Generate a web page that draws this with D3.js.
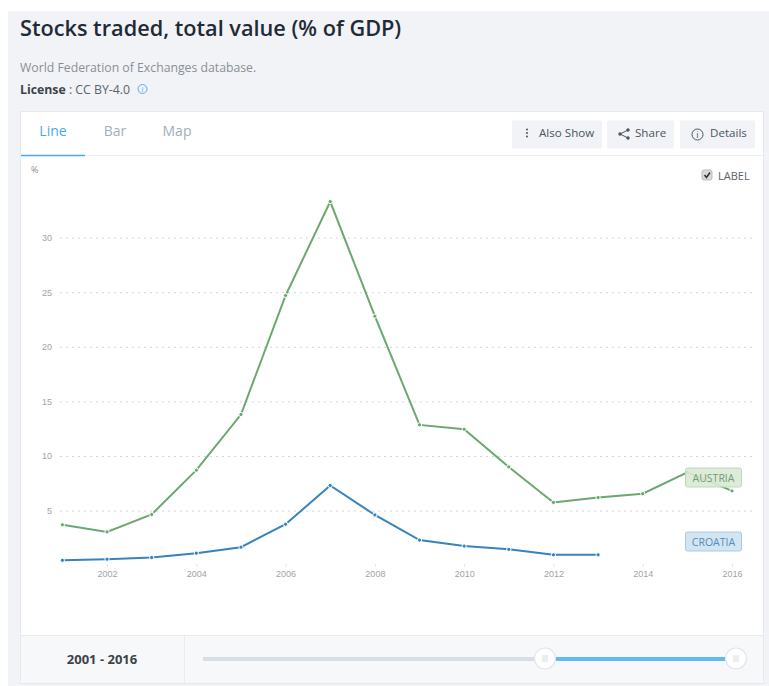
<!DOCTYPE html>
<html>
<head>
<meta charset="utf-8">
<script src="https://cdn.jsdelivr.net/npm/d3@7"></script>
<style>
  html, body { margin: 0; padding: 0; background: #fff; overflow: hidden; }
  svg { display: block; font-family: "Open Sans", sans-serif; }
  .axis path { display: none; }
  .axis text { fill: #a3a3a3; font-size: 9px; }
  .x.axis line { stroke: #e4e4e4; }
  .y.axis line { stroke: #d6d6d6; stroke-dasharray: 2 4; }
  .btn text { fill: #4b5560; font-size: 11.6px; }
</style>
</head>
<body>
<div id="chart"></div>
<script>
const years = d3.range(2001, 2017);
const austria = [3.7, 3.05, 4.65, 8.7, 13.8, 24.7, 33.3, 22.8, 12.85, 12.45, 9, 5.75, 6.2, 6.55, 8.5, 6.8];
const croatia = [0.45, 0.55, 0.7, 1.1, 1.65, 3.75, 7.3, 4.6, 2.3, 1.75, 1.45, 0.95, 0.95];
const xTicks = [2002, 2004, 2006, 2008, 2010, 2012, 2014, 2016];
const yTicks = [5, 10, 15, 20, 25, 30];
const tabs = ["Line", "Bar", "Map"];

const width = 769, height = 686;

const svg = d3.select("#chart").append("svg")
    .attr("width", width)
    .attr("height", height);

// page panel and card
svg.append("rect").attr("x", 8).attr("y", 11).attr("width", width - 8).attr("height", height - 11).attr("fill", "#f1f3f7");
svg.append("rect").attr("x", 20.5).attr("y", 111.5).attr("width", 743).attr("height", 572)
    .attr("fill", "#fff").attr("stroke", "#e6e9ee");

// header text
svg.append("text").attr("x", 20).attr("y", 36).attr("font-size", 21.7).attr("font-weight", 600)
    .attr("fill", "#1f2b36").text("Stocks traded, total value (% of GDP)");
svg.append("text").attr("x", 20).attr("y", 72).attr("font-size", 12.25).attr("fill", "#8b8f94")
    .text("World Federation of Exchanges database.");
const lic = svg.append("text").attr("x", 20).attr("y", 94).attr("font-size", 12.3).attr("fill", "#5c6268");
lic.append("tspan").attr("font-weight", 700).attr("fill", "#3c434a").text("License");
lic.append("tspan").text(" : CC BY-4.0");
svg.append("circle").attr("cx", 142.5).attr("cy", 89).attr("r", 4.5).attr("fill", "none").attr("stroke", "#5aaef0");
svg.append("text").attr("x", 142.5).attr("y", 92).attr("text-anchor", "middle").attr("font-size", 8).attr("fill", "#5aaef0").text("i");

// tabs
const tabX = [53, 115, 177];
svg.selectAll(".tab").data(tabs).enter().append("text")
    .attr("class", "tab")
    .attr("x", (d, i) => tabX[i])
    .attr("y", 136)
    .attr("text-anchor", "middle")
    .attr("font-size", 14)
    .attr("fill", (d, i) => i === 0 ? "#4aa8ee" : "#9fb0bd")
    .text(d => d);
svg.append("line").attr("x1", 21).attr("x2", 763).attr("y1", 155.5).attr("y2", 155.5).attr("stroke", "#edf0f3");
svg.append("line").attr("x1", 21).attr("x2", 85).attr("y1", 155.5).attr("y2", 155.5).attr("stroke", "#4aa8ee").attr("stroke-width", 1.5);

// buttons
const buttons = [
  { label: "Also Show", x: 512, w: 90, tx: 539 },
  { label: "Share", x: 607, w: 67, tx: 635 },
  { label: "Details", x: 680, w: 75, tx: 710 }
];
const btn = svg.selectAll(".btn").data(buttons).enter().append("g").attr("class", "btn");
btn.append("rect").attr("x", d => d.x).attr("y", 120.5).attr("width", d => d.w).attr("height", 28)
    .attr("rx", 1).attr("fill", "#f1f3f6");
btn.append("text").attr("x", d => d.tx).attr("y", 137).text(d => d.label);
// also show dots
svg.selectAll(".dot3").data([129.5, 133, 136.5]).enter().append("circle")
    .attr("cx", 527).attr("cy", d => d).attr("r", 1).attr("fill", "#4b5560");
// share icon
svg.append("path").attr("d", "M628 130 L620 134 L628 138").attr("fill", "none").attr("stroke", "#4b5560").attr("stroke-width", 1);
svg.selectAll(".sh").data([[628, 130], [620, 134], [628, 138]]).enter().append("circle")
    .attr("cx", d => d[0]).attr("cy", d => d[1]).attr("r", 1.7).attr("fill", "#4b5560");
// details icon
svg.append("circle").attr("cx", 697.5).attr("cy", 134.5).attr("r", 5.5).attr("fill", "none").attr("stroke", "#4b5560");
svg.append("text").attr("x", 697.5).attr("y", 138).attr("text-anchor", "middle").attr("font-size", 9).attr("fill", "#4b5560").text("i");

// label checkbox
svg.append("rect").attr("x", 702).attr("y", 170).attr("width", 10).attr("height", 10).attr("rx", 2)
    .attr("fill", "#d9d9d9").attr("stroke", "#bbb");
svg.append("path").attr("d", "M704.5 175 L706.5 177.5 L710 172.5").attr("fill", "none").attr("stroke", "#333").attr("stroke-width", 1.6);
svg.append("text").attr("x", 718).attr("y", 180).attr("font-size", 11).attr("fill", "#5c6268").text("LABEL");

// scales
const x = d3.scaleLinear().domain([2001, 2016]).range([62.4, 732]);
const y = d3.scaleLinear().domain([0, 30]).range([565.2, 237.6]);

svg.append("text").attr("x", 31).attr("y", 173).attr("font-size", 9).attr("fill", "#8f8f8f").text("%");

svg.append("g").attr("class", "y axis")
    .attr("transform", "translate(60,0)")
    .call(d3.axisLeft(y).tickValues(yTicks).tickSize(-695).tickPadding(8).tickFormat(d3.format("d")))
    .call(g => g.selectAll("line").attr("stroke-width", 1));

svg.append("g").attr("class", "x axis")
    .attr("transform", "translate(0,564)")
    .call(d3.axisBottom(x).tickValues(xTicks).tickSize(3).tickPadding(4).tickFormat(d3.format("d")));

// lines
const line = d3.line().x((d, i) => x(years[i])).y(d => y(d));
const series = [
  { name: "AUSTRIA", values: austria, color: "#6aa86f", fill: "#d9e9d5", border: "#bcdcb8", text: "#6f9f6e", by: 468 },
  { name: "CROATIA", values: croatia, color: "#3683bd", fill: "#cfe2f1", border: "#a6cbe6", text: "#4f8dbd", by: 532 }
];
series.forEach(s => {
  svg.append("path").datum(s.values).attr("d", line)
      .attr("fill", "none").attr("stroke", s.color).attr("stroke-width", 2);
  svg.selectAll(".pt-" + s.name).data(s.values).enter().append("circle")
      .attr("cx", (d, i) => x(years[i])).attr("cy", d => y(d)).attr("r", 2.1)
      .attr("fill", s.color).attr("stroke", "#fff").attr("stroke-width", 1);
});
// series labels sit over the lines
series.forEach(s => {
  svg.append("rect").attr("x", 685.5).attr("y", s.by).attr("width", 56).attr("height", 19).attr("rx", 2)
      .attr("fill", s.fill).attr("fill-opacity", 0.9).attr("stroke", s.border);
  svg.append("text").attr("x", 713.5).attr("y", s.by + 13.5).attr("text-anchor", "middle")
      .attr("font-size", 10.5).attr("fill", s.text).text(s.name);
});

// range slider
svg.append("rect").attr("x", 21).attr("y", 635.5).attr("width", 742).attr("height", 47.5).attr("fill", "#f7f8fa");
svg.append("line").attr("x1", 21).attr("x2", 763).attr("y1", 635.5).attr("y2", 635.5).attr("stroke", "#e6e9ee");
svg.append("line").attr("x1", 184.5).attr("x2", 184.5).attr("y1", 636).attr("y2", 683).attr("stroke", "#e9ecf0");
svg.append("text").attr("x", 102).attr("y", 664).attr("text-anchor", "middle").attr("font-size", 13).attr("font-weight", 700)
    .attr("fill", "#3c434a").text(years[0] + " - " + years[years.length - 1]);
svg.append("rect").attr("x", 203).attr("y", 657).attr("width", 342).attr("height", 4).attr("fill", "#d8dee7");
svg.append("rect").attr("x", 545).attr("y", 657).attr("width", 191).attr("height", 4).attr("fill", "#62b9f3");
[545, 736].forEach(cx => {
  svg.append("circle").attr("cx", cx).attr("cy", 658.5).attr("r", 10.5).attr("fill", "#fff").attr("stroke", "#e2e5ea").attr("stroke-width", 1.2);
  [-2, 0, 2].forEach(o => svg.append("line").attr("x1", cx + o).attr("x2", cx + o).attr("y1", 655).attr("y2", 662).attr("stroke", "#d8dce2"));
});
</script>
</body>
</html>
